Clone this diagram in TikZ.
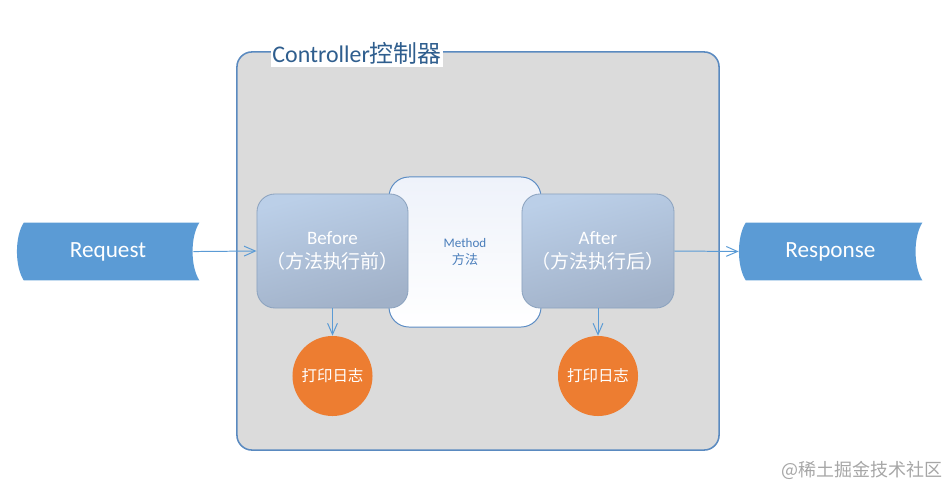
\documentclass[tikz,border=0pt]{standalone}
\usepackage{fontspec}
\setmainfont{Carlito}
\newfontfamily\cjk{Noto Sans CJK SC}
\usetikzlibrary{positioning,calc,arrows.meta}
\definecolor{frame}     {HTML}{5A8AC0}
\definecolor{titleink}  {HTML}{2F5E8E}
\definecolor{panel}     {HTML}{DBDBDB}
\definecolor{tapefill}  {HTML}{5B9BD5}
\definecolor{stagetop}  {HTML}{BBCFE8}
\definecolor{stagebot}  {HTML}{A1B1C8}
\definecolor{stageline} {HTML}{8CA3BF}
\definecolor{methodtop} {HTML}{EEF2FA}
\definecolor{methodline}{HTML}{5B8CC4}
\definecolor{methodink} {HTML}{4A7EBB}
\definecolor{logfill}   {HTML}{ED7D31}
\definecolor{wire}      {HTML}{5B9BD5}
\definecolor{markink}   {HTML}{A6A6A6}
\tikzset{
  >={Straight Barb[length=8pt,width=7pt]},
  % --- nodes
  ctrl/.style   = {draw=frame, fill=panel, line width=1.1pt, rounded corners=0.375cm,
                   minimum width=12.05cm, minimum height=9.95cm, inner sep=0},
  ctitle/.style = {fill=white, text=titleink, inner xsep=1pt, inner ysep=2pt,
                   font=\fontsize{17}{19}\selectfont},
  tape/.style   = {minimum height=1.425cm, inner sep=0, text=white,
                   font=\fontsize{16.5}{18}\selectfont},
  stage/.style  = {draw=stageline, top color=stagetop, bottom color=stagebot, shading angle=15,
                   rounded corners=0.45cm, line width=0.6pt, minimum width=3.8cm,
                   minimum height=2.85cm, align=center, text=white,
                   font=\fontsize{13.5}{17}\selectfont},
  method/.style = {draw=methodline, top color=methodtop, bottom color=white, line width=0.7pt,
                   rounded corners=0.5cm, minimum width=3.8cm, minimum height=3.75cm,
                   align=center, text=methodink, font=\fontsize{9.3}{12}\selectfont},
  logn/.style   = {circle, fill=logfill, minimum size=2cm, inner sep=0, text=white,
                   font=\cjk\fontsize{11}{13}\selectfont},
  wmark/.style  = {text=markink, font=\cjk\fontsize{12.8}{15}\selectfont},
  % --- edges
  flow/.style   = {->, draw=wire, line width=0.7pt},
}
% data tape outline round a named node
\newcommand\tapeshape[1]{%
  \fill[tapefill] ($(#1.north west)+(7,0)$) -- (#1.north east)
    .. controls ($(#1.north east)+(-9,14)$) and ($(#1.south east)+(-9,-14)$) .. (#1.south east)
    -- ($(#1.south west)+(7,0)$)
    .. controls ($(#1.south west)+(-2,-14)$) and ($(#1.north west)+(-2,14)$) .. cycle;}
\begin{document}
\begin{tikzpicture}[x=0.025cm,y=-0.025cm]
  \useasboundingbox (0,0) rectangle (948,487);

  % controller frame
  \node[ctrl] (ctrl) at (478,251) {};
  \node[ctitle] (ctitle) at (357,53) {Controller{\cjk 控制器}};

  % request / response
  \node[tape, minimum width=4.55cm]  (req)  at (108,251.5) {};
  \node[tape, minimum width=4.575cm] (resp) at (830.5,251.5) {};
  \tapeshape{req}
  \tapeshape{resp}
  \node[tape] at (req)  {Request};
  \node[tape] at (resp) {Response};

  % method and the two stages
  \node[method] (method) at (465,252) {Method\\{\cjk 方法}};
  \node[stage, minimum width=3.775cm] (before) at (332.5,251) {Before\\{\cjk （方法执行前）}};
  \node[stage] (after) at (598,251) {After\\{\cjk （方法执行后）}};

  % logging
  \node[logn] (logb) at (332.5,376) {打印日志};
  \node[logn] (loga) at (598,376) {打印日志};

  \draw[flow, shorten <=-1.5mm] (req.east) -- (before.west);
  \draw[flow] (after.east) -- (resp.west);
  \draw[flow] (before.south) -- (logb.north);
  \draw[flow] (after.south) -- (loga.north);

  \node[wmark] (mark) at (862,470) {@稀土掘金技术社区};
\end{tikzpicture}
\end{document}
